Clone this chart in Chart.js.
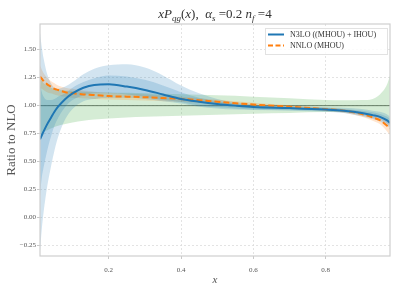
<!DOCTYPE html>
<html>
<head>
<meta charset="utf-8">
<script src="https://cdn.jsdelivr.net/npm/chart.js@4"></script>
<style>
  html, body { margin: 0; padding: 0; background: #fff; }
  #wrap { width: 399px; height: 285px; }
</style>
</head>
<body>
<div id="wrap"><canvas id="c" width="399" height="285"></canvas></div>
<script>
(function () {
  'use strict';

  // x grid shared by every series
  const X = [0.01, 0.015, 0.02, 0.03, 0.04, 0.05, 0.06, 0.08, 0.1, 0.13, 0.16, 0.2, 0.25, 0.3,
    0.35, 0.4, 0.45, 0.5, 0.55, 0.6, 0.7, 0.8, 0.85, 0.9, 0.93, 0.95, 0.97, 0.978];

  // N3LO central + bands
  const N3LO = [0.70, 0.735, 0.77, 0.835, 0.89, 0.945, 0.99, 1.06, 1.11, 1.16, 1.185, 1.19, 1.17, 1.14,
    1.10, 1.06, 1.035, 1.015, 1.0, 0.988, 0.978, 0.965, 0.955, 0.935, 0.915, 0.9, 0.868, 0.845];
  const N3LO_TOT_HI = [1.65, 1.52, 1.42, 1.28, 1.20, 1.16, 1.15, 1.17, 1.21, 1.28, 1.33, 1.36, 1.37, 1.34,
    1.27, 1.18, 1.11, 1.06, 1.03, 1.01, 0.995, 0.985, 0.98, 0.97, 0.955, 0.945, 0.92, 0.90];
  const N3LO_TOT_LO = [-0.30, -0.10, 0.05, 0.28, 0.45, 0.60, 0.72, 0.88, 0.97, 1.04, 1.06, 1.07, 1.07, 1.06,
    1.04, 1.02, 0.99, 0.975, 0.965, 0.96, 0.955, 0.945, 0.935, 0.905, 0.88, 0.86, 0.82, 0.80];
  const N3LO_MHOU_HI = [1.20, 1.12, 1.08, 1.05, 1.05, 1.06, 1.08, 1.11, 1.16, 1.21, 1.245, 1.27, 1.26, 1.23,
    1.18, 1.12, 1.07, 1.04, 1.02, 1.0, 0.99, 0.98, 0.97, 0.955, 0.94, 0.925, 0.90, 0.88];
  const N3LO_MHOU_LO = [0.20, 0.36, 0.45, 0.60, 0.72, 0.82, 0.89, 0.99, 1.05, 1.09, 1.11, 1.11, 1.10, 1.08,
    1.05, 1.03, 1.0, 0.985, 0.975, 0.965, 0.96, 0.95, 0.94, 0.915, 0.89, 0.875, 0.84, 0.815];

  // NNLO central + band
  const NNLO = [1.26, 1.24, 1.22, 1.19, 1.17, 1.15, 1.14, 1.12, 1.11, 1.10, 1.095, 1.085, 1.08, 1.075,
    1.068, 1.06, 1.048, 1.035, 1.022, 1.01, 0.99, 0.968, 0.955, 0.925, 0.895, 0.87, 0.82, 0.795];
  const NNLO_HI = [1.36, 1.32, 1.29, 1.25, 1.22, 1.20, 1.18, 1.16, 1.15, 1.135, 1.125, 1.115, 1.105, 1.10,
    1.09, 1.08, 1.066, 1.052, 1.038, 1.025, 1.003, 0.98, 0.968, 0.945, 0.92, 0.90, 0.86, 0.84];
  const NNLO_LO = [1.16, 1.15, 1.14, 1.12, 1.11, 1.10, 1.09, 1.08, 1.07, 1.065, 1.06, 1.055, 1.05, 1.045,
    1.04, 1.035, 1.025, 1.015, 1.005, 0.995, 0.975, 0.952, 0.937, 0.90, 0.865, 0.835, 0.77, 0.74];

  // green band
  const GREEN_HI = [1.24, 1.22, 1.20, 1.18, 1.16, 1.15, 1.145, 1.135, 1.13, 1.125, 1.12, 1.118, 1.114, 1.11,
    1.106, 1.102, 1.098, 1.093, 1.088, 1.08, 1.065, 1.05, 1.048, 1.05, 1.06, 1.10, 1.19, 1.27];
  const GREEN_LO = [0.74, 0.755, 0.765, 0.78, 0.795, 0.81, 0.82, 0.835, 0.85, 0.865, 0.875, 0.885, 0.893, 0.90,
    0.905, 0.91, 0.913, 0.918, 0.922, 0.928, 0.935, 0.943, 0.94, 0.93, 0.92, 0.905, 0.87, 0.85];

  const X_TICKS = [0.2, 0.4, 0.6, 0.8];
  const Y_TICKS = [-0.25, 0, 0.25, 0.5, 0.75, 1.0, 1.25, 1.5];
  const REF_LINE = 1.0;
  const LEGEND_LABELS = ['N3LO ((MHOU) + IHOU)', 'NNLO (MHOU)'];

  const BLUE = '#1f77b4';
  const ORANGE = '#ff7f0e';
  const SERIF = "'Liberation Serif', 'DejaVu Serif', serif";

  function pts(ys) { return X.map(function (x, i) { return { x: x, y: ys[i] }; }); }

  function band(hi, lo, color, order) {
    return [
      { data: pts(hi), fill: '+1', backgroundColor: color, borderWidth: 0, pointRadius: 0, order: order },
      { data: pts(lo), fill: false, borderWidth: 0, pointRadius: 0, order: order },
    ];
  }

  const framePlugin = {
    id: 'frame',
    beforeDatasetsDraw: function (chart) {
      const ctx = chart.ctx, a = chart.chartArea;
      const y = chart.scales.y.getPixelForValue(REF_LINE);
      ctx.save();
      ctx.strokeStyle = '#666';
      ctx.lineWidth = 0.9;
      ctx.beginPath();
      ctx.moveTo(a.left, y); ctx.lineTo(a.right, y);
      ctx.stroke();
      ctx.restore();
    },
    afterDraw: function (chart) {
      const ctx = chart.ctx, a = chart.chartArea;
      ctx.save();
      // frame
      ctx.strokeStyle = '#cfcfcf';
      ctx.lineWidth = 1.2;
      ctx.strokeRect(a.left, a.top, a.right - a.left, a.bottom - a.top);

      // title with sub-scripts
      const big = 13, small = 9;
      const segs = [
        ['x', 'italic', big, 0], ['P', 'italic', big, 0], ['qg', 'italic', small, 3],
        ['(', '', big, 0], ['x', 'italic', big, 0], ['),  ', '', big, 0],
        ['α', 'italic', big, 0], ['s', 'italic', small, 3], [' =0.2 ', '', big, 0],
        ['n', 'italic', big, 0], ['f', 'italic', small, 3], [' =4', '', big, 0],
      ];
      let total = 0;
      segs.forEach(function (s) {
        ctx.font = s[1] + ' ' + s[2] + 'px ' + SERIF;
        s.push(ctx.measureText(s[0]).width);
        total += s[4];
      });
      let cx = (a.left + a.right) / 2 - total / 2;
      ctx.fillStyle = '#333';
      ctx.textBaseline = 'alphabetic';
      ctx.textAlign = 'left';
      segs.forEach(function (s) {
        ctx.font = s[1] + ' ' + s[2] + 'px ' + SERIF;
        ctx.fillText(s[0], cx, 18 + s[3]);
        cx += s[4];
      });

      // axis labels
      ctx.fillStyle = '#555';
      ctx.font = 'italic 11px ' + SERIF;
      ctx.textAlign = 'center';
      ctx.textBaseline = 'middle';
      ctx.fillText('x', (a.left + a.right) / 2, 280);
      ctx.save();
      ctx.translate(12, (a.top + a.bottom) / 2);
      ctx.rotate(-Math.PI / 2);
      ctx.font = '13px ' + SERIF;
      ctx.fillText('Ratio to NLO', 0, 0);
      ctx.restore();

      // legend
      const lx = 265, ly = 28, lw = 122, lh = 26;
      ctx.fillStyle = 'rgba(255,255,255,0.85)';
      ctx.strokeStyle = '#e2e2e2';
      ctx.lineWidth = 1;
      ctx.fillRect(lx, ly, lw, lh);
      ctx.strokeRect(lx + 0.5, ly + 0.5, lw, lh);
      ctx.lineWidth = 2;
      ctx.strokeStyle = BLUE;
      ctx.beginPath(); ctx.moveTo(lx + 3, ly + 6.5); ctx.lineTo(lx + 19, ly + 6.5); ctx.stroke();
      ctx.strokeStyle = ORANGE;
      ctx.setLineDash([5, 2.5]);
      ctx.beginPath(); ctx.moveTo(lx + 3, ly + 17.5); ctx.lineTo(lx + 19, ly + 17.5); ctx.stroke();
      ctx.setLineDash([]);
      ctx.fillStyle = '#333';
      ctx.font = '8px ' + SERIF;
      ctx.textAlign = 'left';
      ctx.fillText(LEGEND_LABELS[0], lx + 25, ly + 7);
      ctx.fillText(LEGEND_LABELS[1], lx + 25, ly + 18);
      ctx.restore();
    },
  };

  const datasets = []
    .concat(band(GREEN_HI, GREEN_LO, 'rgba(44,160,44,0.2)', 5))
    .concat(band(NNLO_HI, NNLO_LO, 'rgba(255,127,14,0.2)', 4))
    .concat(band(N3LO_TOT_HI, N3LO_TOT_LO, 'rgba(31,119,180,0.2)', 3))
    .concat(band(N3LO_MHOU_HI, N3LO_MHOU_LO, 'rgba(31,119,180,0.2)', 2))
    .concat([
      { data: pts(NNLO), borderColor: ORANGE, borderWidth: 2, borderDash: [6, 3], pointRadius: 0, fill: false, order: 1 },
      { data: pts(N3LO), borderColor: BLUE, borderWidth: 2, pointRadius: 0, fill: false, order: 0 },
    ]);

  const tickFont = { family: SERIF, size: 7 };
  const gridStyle = { color: '#dcdcdc', lineWidth: 0.8, tickLength: 3, tickColor: '#bbb' };

  new Chart(document.getElementById('c'), {
    type: 'line',
    data: { datasets: datasets },
    options: {
      responsive: false,
      animation: false,
      devicePixelRatio: 1,
      layout: { padding: { left: 0, right: 9, top: 24, bottom: 0 } },
      elements: { line: { cubicInterpolationMode: 'monotone' } },
      plugins: { legend: { display: false }, tooltip: { enabled: false }, filler: { propagate: false } },
      scales: {
        x: {
          type: 'linear',
          min: 0.01,
          max: 0.978,
          afterFit: function (s) { s.height = 29; },
          afterBuildTicks: function (s) { s.ticks = X_TICKS.map(function (v) { return { value: v }; }); },
          ticks: { font: tickFont, color: '#555', padding: 7, maxRotation: 0,
            callback: function (v) { return v.toFixed(1); } },
          grid: gridStyle,
          border: { display: false, dash: [2, 2] },
        },
        y: {
          min: -0.343,
          max: 1.729,
          afterFit: function (s) { s.width = 40; },
          afterBuildTicks: function (s) { s.ticks = Y_TICKS.map(function (v) { return { value: v }; }); },
          ticks: { font: tickFont, color: '#555', padding: 1,
            callback: function (v) { return (v < 0 ? '\u2212' : '') + Math.abs(v).toFixed(2); } },
          grid: gridStyle,
          border: { display: false, dash: [2, 2] },
        },
      },
    },
    plugins: [framePlugin],
  });
})();
</script>
</body>
</html>
